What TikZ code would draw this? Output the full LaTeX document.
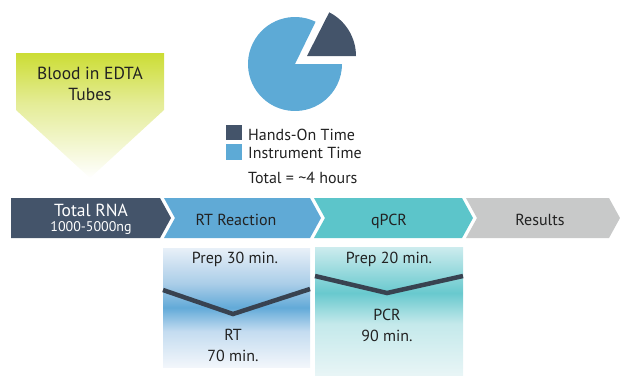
\documentclass[tikz,border=0pt]{standalone}
\usepackage{fontspec}
\setmainfont{PT Sans}
\definecolor{slate}{RGB}{68,84,106}
\definecolor{pieblue}{RGB}{93,170,214}
\definecolor{stepblue}{RGB}{96,170,214}
\definecolor{stepteal}{RGB}{92,197,202}
\definecolor{stepgray}{RGB}{200,201,201}
\definecolor{vline}{RGB}{56,66,80}
\definecolor{txt}{RGB}{34,34,34}
\definecolor{limetop}{RGB}{204,221,52}
\definecolor{limemid}{RGB}{228,236,150}
\definecolor{rttop}{RGB}{232,240,248}
\definecolor{rtupper}{RGB}{170,205,232}
\definecolor{rtpeak}{RGB}{98,170,216}
\definecolor{rtmid}{RGB}{196,220,240}
\definecolor{rtlow}{RGB}{242,246,251}
\definecolor{qtop}{RGB}{205,236,238}
\definecolor{qpeak}{RGB}{104,201,206}
\definecolor{qmid}{RGB}{196,233,235}
\definecolor{qlow}{RGB}{232,245,246}
% vertical shadings: the path's box spans 25bp (bottom) to 75bp (top)
\pgfdeclareverticalshading{limeshade}{100bp}{color(0bp)=(white); color(25bp)=(white); color(55bp)=(limemid); color(75bp)=(limetop); color(100bp)=(limetop)}
\pgfdeclareverticalshading{rtshade}{100bp}{color(0bp)=(rtlow); color(25bp)=(rtlow); color(40bp)=(rtmid); color(50bp)=(rtpeak); color(60bp)=(rtupper); color(75bp)=(rttop); color(100bp)=(rttop)}
\pgfdeclareverticalshading{qshade}{100bp}{color(0bp)=(qlow); color(25bp)=(qlow); color(45bp)=(qmid); color(57bp)=(qpeak); color(75bp)=(qtop); color(100bp)=(qtop)}
\tikzset{
  body/.style={font=\fontsize{16}{19}\selectfont, text=txt, inner sep=0pt},
  big/.style={font=\fontsize{17.5}{21}\selectfont, text=txt, inner sep=0pt},
  legsq/.style={minimum size=15.5pt, inner sep=0pt},
  vstroke/.style={draw=vline, line width=4.5pt, line join=miter}
}
\begin{document}
\begin{tikzpicture}[x=1pt,y=-1pt]
\useasboundingbox (0,0) rectangle (620,376);

% sample arrow
\shade[shading=limeshade] (16,53) -- (164,53) -- (164,110) -- (90,178) -- (16,110) -- cycle;
\node[big, anchor=base] (blood) at (90,79.5) {Blood in EDTA};
\node[big, anchor=base] (tubes) at (90,100) {Tubes};

% time pie
\fill[pieblue] (295,64) -- ++(-64:47) arc (-64:-360:47) -- cycle;
\fill[slate] (307,56) -- ++(0:49) arc (0:-63:49) -- cycle;

% legend
\node[legsq, fill=slate] (sqhands) at (234,132.5) {};
\node[legsq, fill=pieblue] (sqinstr) at (234,152) {};
\node[body, anchor=base west] (lhands) at (248,140) {Hands-On Time};
\node[body, anchor=base west] (linstr) at (248,158.5) {Instrument Time};
\node[body, anchor=base west] (ltotal) at (248,183.5) {Total = \textasciitilde4 hours};

% workflow band
\fill[slate] (11,198) -- (160,198) -- (171,218) -- (160,238) -- (11,238) -- cycle;
\fill[stepblue] (164,198) -- (310,198) -- (321,218) -- (310,238) -- (164,238) -- (175,218) -- cycle;
\fill[stepteal] (314,198) -- (462,198) -- (473,218) -- (462,238) -- (314,238) -- (325,218) -- cycle;
\fill[stepgray] (466,198) -- (609,198) -- (620,218) -- (609,238) -- (466,238) -- (477,218) -- cycle;

\node[big, text=white, anchor=base] (rna) at (91,216.5) {Total RNA};
\node[font=\fontsize{14}{16}\selectfont, text=white, inner sep=0pt, anchor=base] (amount) at (91,231.5) {1000-5000ng};
\node[body, anchor=base] (rtr) at (236,225) {RT Reaction};
\node[body, anchor=base] (qpcr) at (389,225) {qPCR};
\node[body, anchor=base] (res) at (540,225) {Results};

% step timing panels
\shade[shading=rtshade] (163,248) rectangle (310,367);
\shade[shading=qshade] (315,247) rectangle (463,375);
\draw[vstroke] (163,290) -- (233,314) -- (310,289);
\draw[vstroke] (315,276) -- (387,293) -- (463,276);

\node[body, anchor=base] (prep30) at (235,263) {Prep 30 min.};
\node[body, anchor=base] (rt) at (233,340) {RT};
\node[body, anchor=base] (rt70) at (233,361.5) {70 min.};
\node[body, anchor=base] (prep20) at (389,263) {Prep 20 min.};
\node[body, anchor=base] (pcr) at (387,320.5) {PCR};
\node[body, anchor=base] (pcr90) at (387,341.5) {90 min.};
\end{tikzpicture}
\end{document}
